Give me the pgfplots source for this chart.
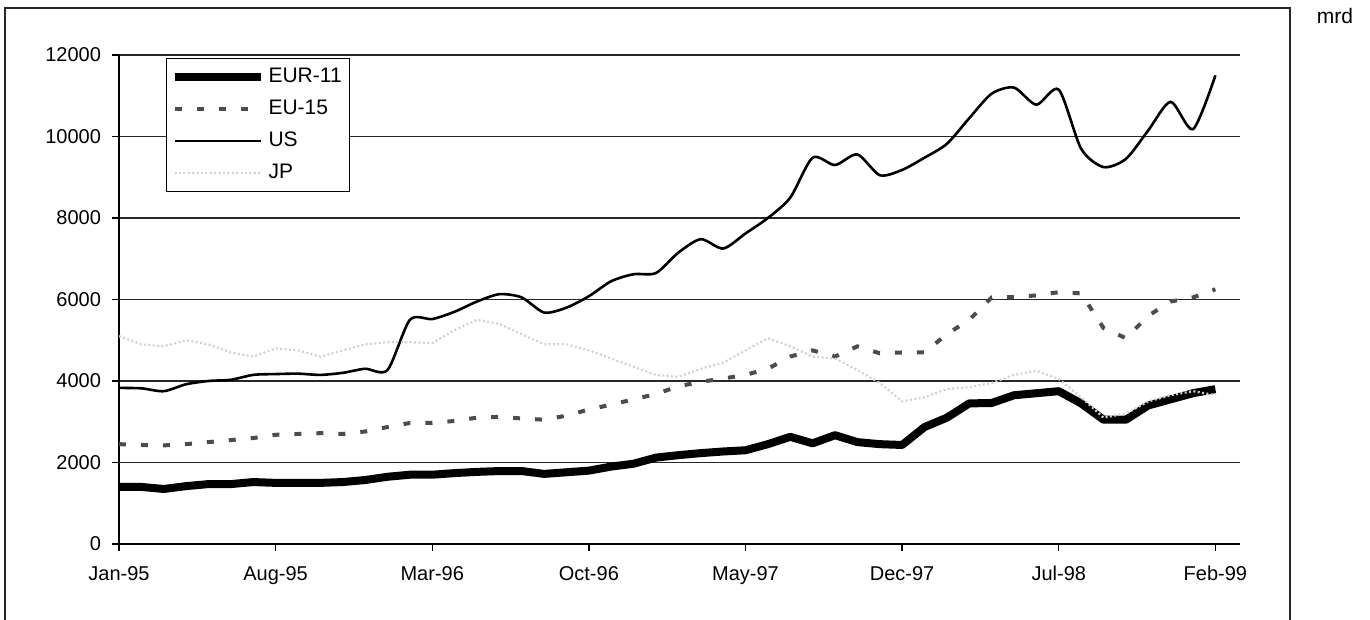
\documentclass[border=0pt]{standalone}
\usepackage{pgfplots}
\usepackage{pgfplotstable}
\pgfplotsset{compat=1.18}
\usepackage{fontspec}
\setmainfont{Liberation Sans}

\pgfplotstableread{
m  eur   eu    us     jp
0  1400  2450  3830   5100
1  1400  2430  3820   4900
2  1350  2420  3750   4850
3  1420  2450  3920   5000
4  1470  2500  4000   4900
5  1470  2550  4030   4700
6  1520  2600  4150   4600
7  1500  2680  4170   4800
8  1500  2700  4180   4750
9  1500  2720  4150   4600
10 1520  2700  4200   4750
11 1570  2760  4300   4900
12 1650  2870  4270   4950
13 1700  2970  5500   4950
14 1700  2970  5520   4930
15 1740  3020  5700   5250
16 1770  3100  5950   5500
17 1790  3120  6130   5400
18 1790  3080  6050   5150
19 1720  3050  5680   4900
20 1760  3150  5800   4900
21 1800  3300  6080   4750
22 1900  3420  6450   4550
23 1970  3550  6620   4350
24 2120  3680  6650   4150
25 2180  3870  7150   4100
26 2230  3980  7480   4300
27 2270  4060  7250   4450
28 2300  4150  7620   4750
29 2450  4300  8000   5050
30 2630  4600  8500   4850
31 2470  4750  9480   4600
32 2670  4600  9300   4550
33 2500  4850  9560   4270
34 2450  4680  9050   3950
35 2430  4700  9180   3500
36 2870  4700  9480   3600
37 3100  5150  9820   3800
38 3450  5500  10450  3850
39 3460  6050  11050  3950
40 3650  6060  11200  4150
41 3700  6100  10780  4250
42 3750  6180  11150  4050
43 3450  6150  9700   3600
44 3050  5300  9250   3100
45 3050  5050  9450   3200
46 3400  5600  10150  3500
47 3550  5950  10850  3650
48 3700  6050  10180  3750
49 3800  6250  11500  3650
}\datatable

\begin{document}
\begin{tikzpicture}[x=1pt,y=1pt]
\useasboundingbox (0,0) rectangle (685,310);
% outer chart frame
\draw[line width=0.6pt, black!85] (2.5,0) -- (2.5,306) -- (645,306) -- (645,0);
\node[font=\fontsize{10.5}{12}\selectfont, anchor=center] at (667.5,302) {mrd};
\begin{axis}[
  at={(59.5pt,38pt)}, anchor=origin,
  scale only axis,
  width=560.5pt, height=244.5pt,
  xmin=0, xmax=50.1,
  ymin=0, ymax=12000,
  axis x line=bottom, axis y line=left,
  axis line style={-, line width=0.7pt, black},
  xtick={0,7,...,49},
  xticklabels={Jan-95,Aug-95,Mar-96,Oct-96,May-97,Dec-97,Jul-98,Feb-99},
  ytick={0,2000,...,12000},
  tick align=outside,
  major tick length=3.5pt,
  tick style={line width=0.7pt, black},
  ymajorgrids,
  grid style={line width=0.7pt, black!85},
  scaled y ticks=false,
  /pgf/number format/set thousands separator={},
  /pgf/number format/assume math mode=true,
  ticklabel style={font=\fontsize{10}{12}\selectfont},
  yticklabel style={xshift=-2pt},
  xticklabel style={yshift=-4pt},
  legend style={at={(0.0419,0.994)}, anchor=north west,
    draw=black, line width=0.6pt, fill=white,
    font=\fontsize{10.5}{12}\selectfont,
    inner xsep=2pt, inner ysep=3pt, row sep=3.2pt,
    cells={anchor=west}},
  legend image code/.code={\draw[#1] (0pt,0pt) -- (43pt,0pt);},
]
\addplot[black, line width=4pt, line join=round] table[x=m, y=eur] {\datatable};
\addlegendentry{EUR-11}
\addplot[black!70, line width=2pt, dash pattern=on 3.5pt off 7.5pt] table[x=m, y=eu] {\datatable};
\addlegendentry{EU-15}
\addplot[black, line width=1.3pt, smooth, tension=0.45] table[x=m, y=us] {\datatable};
\addlegendentry{US}
\addplot[black!18, line width=1.1pt, dash pattern=on 1pt off 1.2pt] table[x=m, y=jp] {\datatable};
\addlegendentry{JP}
\end{axis}
\end{tikzpicture}
\end{document}
